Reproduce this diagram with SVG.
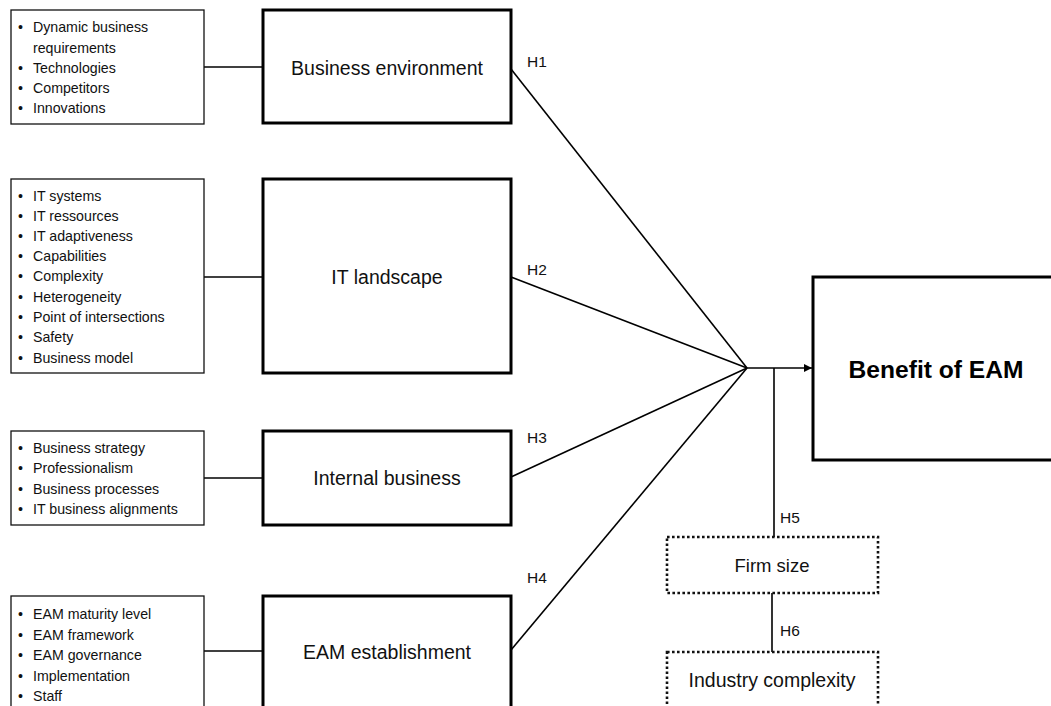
<svg xmlns="http://www.w3.org/2000/svg" width="1051" height="706" viewBox="0 0 1051 706">
<style>
.bg{fill:#fff}
.list{fill:#fff;stroke:#111;stroke-width:1.3}
.main{fill:#fff;stroke:#000;stroke-width:3}
.dot{fill:#fff;stroke:#111;stroke-width:2.6;stroke-dasharray:2.6 2.4}
.ln{fill:none;stroke:#000;stroke-width:1.6}
.t{font-family:"Liberation Sans",Arial,sans-serif;fill:#111}
.li{font-size:14.2px}
.lab{font-size:19.5px;text-anchor:middle}
.h{font-size:15.5px}
.big{font-size:24.6px;font-weight:bold;text-anchor:middle;fill:#000}
</style>
<defs>
<marker id="arr" markerWidth="8" markerHeight="8" refX="8" refY="4" orient="auto" markerUnits="userSpaceOnUse">
<path d="M0,0 L8,4 L0,8 Z" fill="#000"/>
</marker>
</defs>
<rect class="bg" x="0" y="0" width="1051" height="706"/>

<g id="connectors">
<line class="ln" x1="204" y1="67" x2="263" y2="67"/>
<line class="ln" x1="204" y1="277" x2="263" y2="277"/>
<line class="ln" x1="204" y1="478" x2="263" y2="478"/>
<line class="ln" x1="204" y1="651" x2="263" y2="651"/>
<line class="ln" x1="511" y1="69" x2="747" y2="368"/>
<line class="ln" x1="511" y1="277" x2="747" y2="368"/>
<line class="ln" x1="511" y1="477" x2="747" y2="368"/>
<line class="ln" x1="511" y1="650" x2="747" y2="368"/>
<line class="ln" x1="747" y1="368" x2="812" y2="368" marker-end="url(#arr)"/>
<line class="ln" x1="774" y1="368" x2="774" y2="537"/>
<line class="ln" x1="772" y1="593" x2="772" y2="652"/>
<text class="t h" x="527" y="67">H1</text>
<text class="t h" x="527" y="275">H2</text>
<text class="t h" x="527" y="443">H3</text>
<text class="t h" x="527" y="583">H4</text>
<text class="t h" x="780" y="523">H5</text>
<text class="t h" x="780" y="636">H6</text>
</g>

<g id="list-business-environment">
<rect class="list" x="11" y="10" width="193" height="114"/>
<text class="t li"><tspan x="18" y="32">•</tspan><tspan x="33" y="32">Dynamic business</tspan></text>
<text class="t li" x="33" y="53">requirements</text>
<text class="t li"><tspan x="18" y="73">•</tspan><tspan x="33" y="73">Technologies</tspan></text>
<text class="t li"><tspan x="18" y="93">•</tspan><tspan x="33" y="93">Competitors</tspan></text>
<text class="t li"><tspan x="18" y="113">•</tspan><tspan x="33" y="113">Innovations</tspan></text>
</g>

<g id="business-environment">
<rect class="main" x="263" y="10" width="248" height="113"/>
<text class="t lab" x="387" y="75">Business environment</text>
</g>

<g id="list-it-landscape">
<rect class="list" x="11" y="179" width="193" height="194"/>
<text class="t li"><tspan x="18" y="201">•</tspan><tspan x="33" y="201">IT systems</tspan></text>
<text class="t li"><tspan x="18" y="221">•</tspan><tspan x="33" y="221">IT ressources</tspan></text>
<text class="t li"><tspan x="18" y="241">•</tspan><tspan x="33" y="241">IT adaptiveness</tspan></text>
<text class="t li"><tspan x="18" y="261">•</tspan><tspan x="33" y="261">Capabilities</tspan></text>
<text class="t li"><tspan x="18" y="281">•</tspan><tspan x="33" y="281">Complexity</tspan></text>
<text class="t li"><tspan x="18" y="302">•</tspan><tspan x="33" y="302">Heterogeneity</tspan></text>
<text class="t li"><tspan x="18" y="322">•</tspan><tspan x="33" y="322">Point of intersections</tspan></text>
<text class="t li"><tspan x="18" y="342">•</tspan><tspan x="33" y="342">Safety</tspan></text>
<text class="t li"><tspan x="18" y="363">•</tspan><tspan x="33" y="363">Business model</tspan></text>
</g>

<g id="it-landscape">
<rect class="main" x="263" y="179" width="248" height="194"/>
<text class="t lab" x="387" y="284">IT landscape</text>
</g>

<g id="list-internal-business">
<rect class="list" x="11" y="431" width="193" height="94"/>
<text class="t li"><tspan x="18" y="453">•</tspan><tspan x="33" y="453">Business strategy</tspan></text>
<text class="t li"><tspan x="18" y="473">•</tspan><tspan x="33" y="473">Professionalism</tspan></text>
<text class="t li"><tspan x="18" y="494">•</tspan><tspan x="33" y="494">Business processes</tspan></text>
<text class="t li"><tspan x="18" y="514">•</tspan><tspan x="33" y="514">IT business alignments</tspan></text>
</g>

<g id="internal-business">
<rect class="main" x="263" y="431" width="248" height="94"/>
<text class="t lab" x="387" y="485">Internal business</text>
</g>

<g id="list-eam-establishment">
<rect class="list" x="11" y="596" width="193" height="120"/>
<text class="t li"><tspan x="18" y="619">•</tspan><tspan x="33" y="619">EAM maturity level</tspan></text>
<text class="t li"><tspan x="18" y="640">•</tspan><tspan x="33" y="640">EAM framework</tspan></text>
<text class="t li"><tspan x="18" y="660">•</tspan><tspan x="33" y="660">EAM governance</tspan></text>
<text class="t li"><tspan x="18" y="681">•</tspan><tspan x="33" y="681">Implementation</tspan></text>
<text class="t li"><tspan x="18" y="701">•</tspan><tspan x="33" y="701">Staff</tspan></text>
</g>

<g id="eam-establishment">
<rect class="main" x="263" y="596" width="248" height="120"/>
<text class="t lab" x="387" y="659">EAM establishment</text>
</g>

<g id="benefit-of-eam">
<rect class="main" x="813" y="277" width="250" height="183"/>
<text class="t big" x="936" y="378">Benefit of EAM</text>
</g>

<g id="firm-size">
<rect class="dot" x="667" y="537" width="211" height="56"/>
<text class="t lab" x="772" y="572" style="font-size:18.5px">Firm size</text>
</g>

<g id="industry-complexity">
<rect class="dot" x="667" y="652" width="211" height="70"/>
<text class="t lab" x="772" y="687" style="font-size:19.5px">Industry complexity</text>
</g>
</svg>
